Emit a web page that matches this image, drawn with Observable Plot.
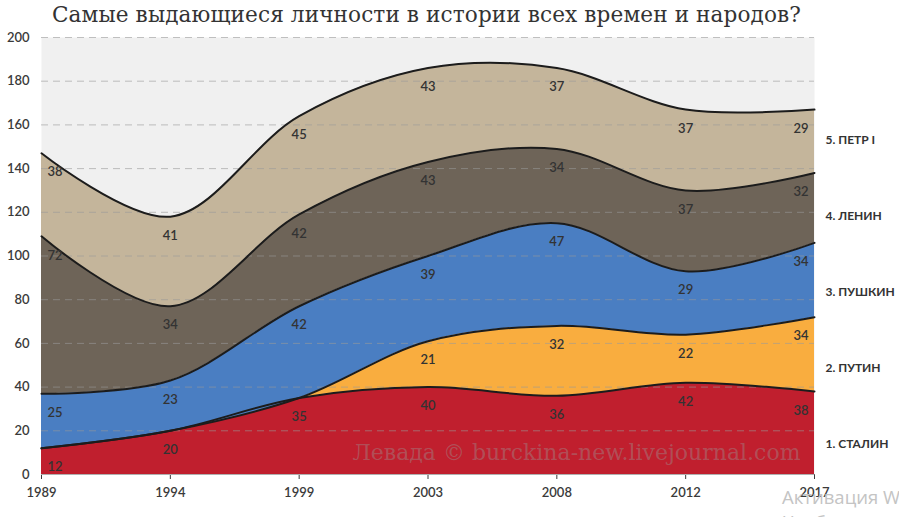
<!DOCTYPE html>
<html>
<head>
<meta charset="utf-8">
<script src="https://cdn.jsdelivr.net/npm/d3@7"></script>
<script src="https://cdn.jsdelivr.net/npm/@observablehq/plot@0.6"></script>
<style>
  html, body { margin: 0; padding: 0; background: #fff; width: 899px; height: 517px; overflow: hidden; position: relative; }
  #title { position: absolute; left: 52px; top: 2px; font-family: "DejaVu Serif", serif; font-size: 21.6px; color: #333; white-space: nowrap; letter-spacing: 0.1px; }
  #win { position: absolute; left: 782px; top: 484px; font-family: "Open Sans", sans-serif; font-size: 18.5px; color: #c4c4c4; white-space: nowrap; line-height: 25px; }
  #chart { position: absolute; left: 0; top: 0; }
</style>
</head>
<body>
<div id="chart"></div>
<div id="title">Самые выдающиеся личности в истории всех времен и народов?</div>
<div id="win">Активация Windows<br>Чтобы активировать Windows</div>
<script>
const years = ["1989", "1994", "1999", "2003", "2008", "2012", "2017"];
const seriesNames = ["1. СТАЛИН", "2. ПУТИН", "3. ПУШКИН", "4. ЛЕНИН", "5. ПЕТР I"];
const stalin  = [12, 20, 35, 40, 36, 42, 38];
const putin   = [0, 0, 0, 21, 32, 22, 34];
const pushkin = [25, 23, 42, 39, 47, 29, 34];
const lenin   = [72, 34, 42, 43, 34, 37, 32];
const petr    = [38, 41, 45, 43, 37, 37, 29];
const yTicks  = [0, 20, 40, 60, 80, 100, 120, 140, 160, 180, 200];
const colors  = ["#c01f2e", "#f9ad3f", "#4a7ec2", "#6e6458", "#c4b59b"];
const watermark = "Левада © burckina-new.livejournal.com";

const seriesValues = [stalin, putin, pushkin, lenin, petr];
const rows = [];
const base = years.map(() => 0);
seriesValues.forEach((vals, s) => {
  vals.forEach((v, i) => {
    rows.push({series: seriesNames[s], i, value: v, y1: base[i], y2: base[i] + v});
    base[i] += v;
  });
});
const labelRows = rows.filter(d => d.value > 0);
const last = years.length - 1;

const font = "Lato, 'Open Sans', sans-serif";
const curve = "catmull-rom";

const chart = Plot.plot({
  width: 899,
  height: 517,
  marginLeft: 41,
  marginRight: 85,
  marginTop: 37,
  marginBottom: 43,
  style: {fontFamily: font, fontSize: "13px", fontWeight: 600, color: "#3a3a3a", background: "transparent", overflow: "visible"},
  x: {type: "linear", domain: [0, last], ticks: d3.range(years.length), tickFormat: i => years[i], label: null, tickSize: 5, tickPadding: 8},
  y: {domain: [0, 200], ticks: yTicks, label: null, tickSize: 0, tickPadding: 12},
  color: {domain: seriesNames, range: colors},
  marks: [
    Plot.frame({fill: "#f0f0f0", stroke: null}),
    Plot.areaY(rows, {x: "i", y1: "y1", y2: "y2", z: "series", fill: "series", curve}),
    Plot.ruleY(yTicks.filter(t => t > 0), {stroke: "#9a9a9a", strokeOpacity: 0.6, strokeDasharray: "7,5", strokeWidth: 1}),
    Plot.lineY(rows, {x: "i", y: "y2", z: "series", stroke: "#1c1c1c", strokeWidth: 2, curve}),
    Plot.ruleY([0], {stroke: "#b0b0b0", strokeWidth: 1}),
    Plot.text([watermark], {frameAnchor: "bottom-right", textAnchor: "end", lineAnchor: "middle", dx: -14, dy: -22,
      fill: "#9a9a9a", fillOpacity: 0.4, fontFamily: "'DejaVu Serif', serif", fontSize: 22, fontWeight: 400}),
    Plot.text(labelRows.filter(d => d.i === 0), {x: "i", y: "y2", text: "value", dy: 19, dx: 6, textAnchor: "start", fill: "#333", fontSize: 13, fontWeight: 600}),
    Plot.text(labelRows.filter(d => d.i > 0 && d.i < last), {x: "i", y: "y2", text: "value", dy: 19, fill: "#333", fontSize: 13, fontWeight: 600}),
    Plot.text(labelRows.filter(d => d.i === last), {x: "i", y: "y2", text: "value", dy: 19, dx: -6, textAnchor: "end", fill: "#333", fontSize: 13, fontWeight: 600}),
    Plot.text(seriesNames, {x: last, y: (d, k) => 13.7 + k * 34.8, dx: 11, textAnchor: "start", fill: "#333", fontSize: 12, fontWeight: 700})
  ]
});
document.getElementById("chart").appendChild(chart);
</script>
</body>
</html>
